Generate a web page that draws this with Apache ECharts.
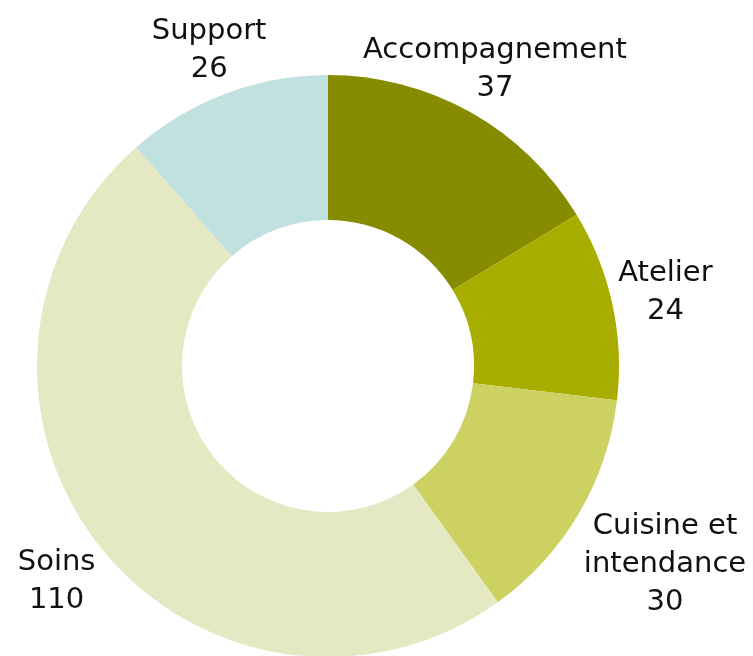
<!DOCTYPE html>
<html>
<head>
<meta charset="utf-8">
<style>
  html, body { margin: 0; padding: 0; background: #ffffff; }
  #chart { width: 753px; height: 656px; }
</style>
<script src="https://cdn.jsdelivr.net/npm/echarts@6/dist/echarts.min.js"></script>
</head>
<body>
<div id="chart"></div>
<script>
// données
const categories = ['Accompagnement', 'Atelier', 'Cuisine et intendance', 'Soins', 'Support'];
const effectifs = [37, 24, 30, 110, 26];
const couleurs = ['#868b00', '#a8ae00', '#cdd162', '#e4e9c4', '#c1e1e1'];

const cx = 328, cy = 366, rIn = 146, rOut = 291;
const total = effectifs.reduce((a, b) => a + b, 0);

// coupe les noms longs après le 2e mot
function coupe(nom) {
    const mots = nom.split(' ');
    if (mots.length > 2) {
        return mots.slice(0, 2).join(' ') + '\n' + mots.slice(2).join(' ');
    }
    return nom;
}

const myChart = echarts.init(document.getElementById('chart'));
const option = {
    backgroundColor: '#ffffff',
    animation: false,
    series: [{
        type: 'pie',
        center: [cx, cy],
        radius: [rIn, rOut],
        startAngle: 90,
        clockwise: true,
        avoidLabelOverlap: false,
        data: categories.map((c, i) => ({
            name: c,
            value: effectifs[i],
            itemStyle: { color: couleurs[i] }
        })),
        label: {
            show: true,
            position: 'inside',
            formatter: p => coupe(p.name) + '\n' + p.value,
            fontFamily: 'DejaVu Sans',
            fontSize: 29,
            lineHeight: 38,
            color: '#111111'
        },
        labelLine: { show: false },
        emphasis: { disabled: true },
        // place chaque étiquette dans l'axe de sa part, juste hors de l'anneau
        labelLayout: function (params) {
            const i = params.dataIndex;
            let avant = 0;
            for (let k = 0; k < i; k++) avant += effectifs[k];
            const a = (avant + effectifs[i] / 2) / total * Math.PI * 2;
            const ux = Math.sin(a), uy = -Math.cos(a);
            const w = params.labelRect.width, h = params.labelRect.height;
            const dx = Math.abs(ux) > 1e-6 ? w / 2 / Math.abs(ux) : Infinity;
            const dy = Math.abs(uy) > 1e-6 ? h / 2 / Math.abs(uy) : Infinity;
            const d = Math.min(dx, dy) + 6;
            return {
                x: cx + ux * (rOut + d),
                y: cy + uy * (rOut + d),
                align: 'center',
                verticalAlign: 'middle'
            };
        }
    }]
};
myChart.setOption(option);
</script>
</body>
</html>
